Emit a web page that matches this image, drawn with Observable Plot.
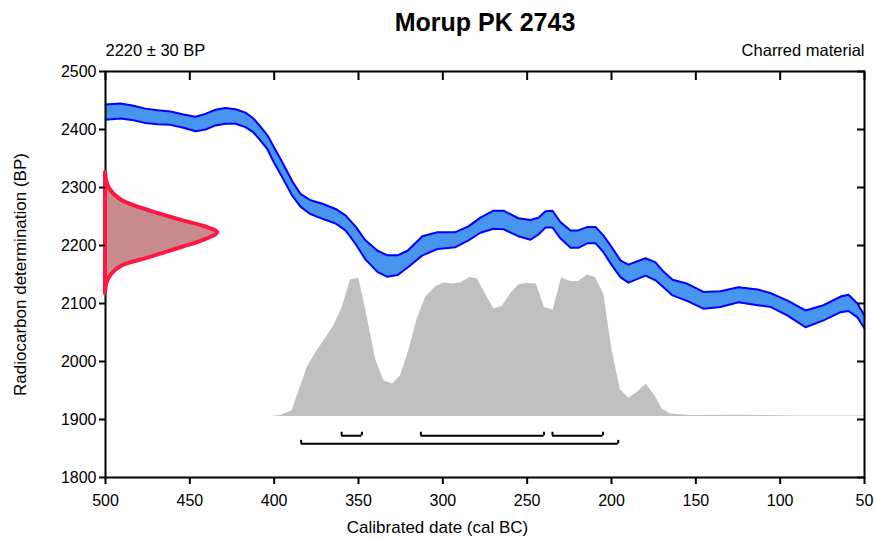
<!DOCTYPE html>
<html>
<head>
<meta charset="utf-8">
<script src="https://cdn.jsdelivr.net/npm/d3@7"></script>
<script src="https://cdn.jsdelivr.net/npm/@observablehq/plot@0.6"></script>
<style>
  html, body { margin: 0; padding: 0; background: #ffffff; }
  #chart svg { display: block; }
</style>
</head>
<body>
<div id="chart"></div>
<script>
// ---- Calibration curve (upper / lower envelope, BP) ----
const calYears = [500,491.1,483.4,476.3,469.2,461.5,453.8,446.6,440.7,434.8,428.9,422.9,417,412.3,408.1,404,401,395.1,389.1,384.4,378.5,371.3,363.6,357.7,351.8,345.9,338.7,332.8,326.9,320.9,312.1,303.2,292.5,284.8,277.7,270,264,255.3,248,243.3,239.1,235,230.2,224.3,219.6,214.2,209.5,204.7,199.4,194.6,189.9,179.8,173.9,169.2,163.8,154.9,145.5,135.4,124.7,113.4,105.7,95.6,85,74.3,64.2,59.5,54.2,50];
const calUpper = [2443,2445,2441,2436,2433,2431,2426,2422,2427,2434,2437,2435,2429,2419,2405,2390,2374,2343,2310,2289,2278,2272,2263,2252,2233,2209,2191,2183,2183,2191,2216,2223,2223,2233,2248,2260,2260,2247,2244,2248,2259,2260,2240,2226,2226,2232,2232,2217,2195,2174,2167,2178,2171,2155,2141,2134,2120,2121,2128,2124,2118,2105,2088,2097,2112,2115,2100,2079];
const calLower = [2417,2419,2416,2411,2409,2408,2403,2397,2400,2407,2410,2410,2404,2395,2381,2366,2348,2317,2285,2267,2254,2246,2238,2226,2203,2176,2154,2146,2149,2162,2183,2194,2197,2209,2222,2229,2228,2216,2210,2219,2231,2231,2212,2196,2196,2204,2204,2188,2164,2145,2136,2148,2140,2128,2114,2104,2091,2094,2102,2097,2094,2079,2059,2071,2085,2087,2076,2057];

const measBP    = [2326,2312,2298,2278,2260,2243,2232,2222,2210,2197,2179,2165,2150,2135,2117];
const measWidth = [0,0.6,2.4,9.5,25.8,45.4,59.3,66.5,59.3,45.7,26.1,10.1,3.6,0.9,0];

// ---- Calibrated date probability (relative) ----
const probYears = [402.2,396.2,389.3,380.4,374.5,364.6,359.7,354.7,349.8,344.8,339.9,335,329.7,325.1,320.2,315.2,310.3,304.3,299.4,294.4,289.5,284,279.6,274.7,269.8,264.8,259.9,254.9,250,244.6,239.7,234.6,229.6,224.3,219.4,214.4,209.5,204.6,199.6,194.7,189.7,184.8,179.4,173.9,169.9,165,153.2,123.5,87.9,50];
const probValues = [0,0.007,0.042,0.348,0.466,0.642,0.771,0.967,0.976,0.701,0.407,0.254,0.231,0.289,0.466,0.689,0.842,0.917,0.944,0.937,0.944,0.983,0.972,0.866,0.761,0.778,0.866,0.932,0.941,0.937,0.771,0.753,0.979,0.955,0.955,1,0.983,0.866,0.466,0.188,0.129,0.171,0.231,0.141,0.054,0.019,0.008,0.010,0.005,0.004];

// ---- Calibrated ranges (cal BC) ----
const range68 = [[360,348],[313,240],[235,205]];
const range95 = [[384,196]];

// ---- Axis ticks & texts ----
const xTicks = [500,450,400,350,300,250,200,150,100,50];
const yTicks = [1800,1900,2000,2100,2200,2300,2400,2500];
const titleText = "Morup PK 2743";
const leftNote = "2220 ± 30 BP";
const rightNote = "Charred material";
const xLabel = "Calibrated date (cal BC)";
const yLabel = "Radiocarbon determination (BP)";

// ---- build tables ----
const cal = calYears.map((year, i) => ({year, hi: calUpper[i], lo: calLower[i]}));
const meas = measBP.map((bp, i) => ({bp, w: measWidth[i]}));
const prob = probYears.map((year, i) => ({year, p: probValues[i]}));
const probBase = 1905, probPeak = 2149;   // where the probability plot sits on the BP axis
const row68 = 1872, row95 = 1858, bracketTick = 6;

const bracketRows = [
  ...range68.map(([a, b]) => ({a, b, y: row68})),
  ...range95.map(([a, b]) => ({a, b, y: row95}))
];
const bracketEnds = bracketRows.flatMap(r => [{x: r.a, y: r.y}, {x: r.b, y: r.y}]);

const font = "'Liberation Sans', Arial, Helvetica, sans-serif";
const plain = d => String(d);

const chart = Plot.plot({
  width: 874,
  height: 540,
  marginLeft: 105,
  marginRight: 10,
  marginTop: 71,
  marginBottom: 63,
  style: {fontFamily: font, fontSize: "16px", color: "#000", background: "#fff"},
  x: {domain: [500, 50], label: null},
  y: {domain: [1800, 2500], label: null},
  marks: [
    Plot.areaY(prob, {x: "year", y1: probBase, y2: d => probBase + d.p * (probPeak - probBase), fill: "#c0c0c0"}),
    Plot.areaY(cal, {x: "year", y1: "lo", y2: "hi", fill: "#4895ef"}),
    Plot.line(cal, {x: "year", y: "hi", stroke: "#0000ff", strokeWidth: 2}),
    Plot.line(cal, {x: "year", y: "lo", stroke: "#0000ff", strokeWidth: 2}),
    Plot.ruleY(bracketRows, {x1: "a", x2: "b", y: "y", stroke: "#000", strokeWidth: 2}),
    Plot.ruleX(bracketEnds, {x: "x", y1: "y", y2: d => d.y + bracketTick, stroke: "#000", strokeWidth: 2}),
    Plot.frame({stroke: "#000", strokeWidth: 2}),
    Plot.areaX(meas, {y: "bp", x1: 500, x2: d => 500 - d.w, fill: "#c98c8c", stroke: "#ff1744", strokeWidth: 4, curve: "catmull-rom"}),
    Plot.axisX({ticks: xTicks, tickSize: 7, tickPadding: 10, strokeWidth: 2, fontSize: 16, tickFormat: plain}),
    Plot.axisX({anchor: "top", ticks: xTicks, tickSize: -8, tickFormat: () => "", strokeWidth: 2}),
    Plot.axisY({ticks: yTicks, tickSize: 6, tickPadding: 3, strokeWidth: 2, fontSize: 16, tickFormat: plain}),
    Plot.axisY({anchor: "right", ticks: yTicks, tickSize: -8, tickFormat: () => "", strokeWidth: 2}),
    Plot.text([titleText], {text: d => d, frameAnchor: "top", lineAnchor: "middle", dy: -49, fontSize: 25, fontWeight: "bold"}),
    Plot.text([leftNote], {text: d => d, frameAnchor: "top-left", textAnchor: "start", lineAnchor: "middle", dy: -21, fontSize: 16.5}),
    Plot.text([rightNote], {text: d => d, frameAnchor: "top-right", textAnchor: "end", lineAnchor: "middle", dy: -21, fontSize: 16.5}),
    Plot.text([xLabel], {text: d => d, frameAnchor: "bottom", lineAnchor: "middle", textAnchor: "middle", dx: -47.5, dy: 50, fontSize: 17}),
    Plot.text([yLabel], {text: d => d, frameAnchor: "left", lineAnchor: "middle", textAnchor: "middle", dx: -85, rotate: -90, fontSize: 17})
  ]
});
document.getElementById("chart").appendChild(chart);
</script>
</body>
</html>
